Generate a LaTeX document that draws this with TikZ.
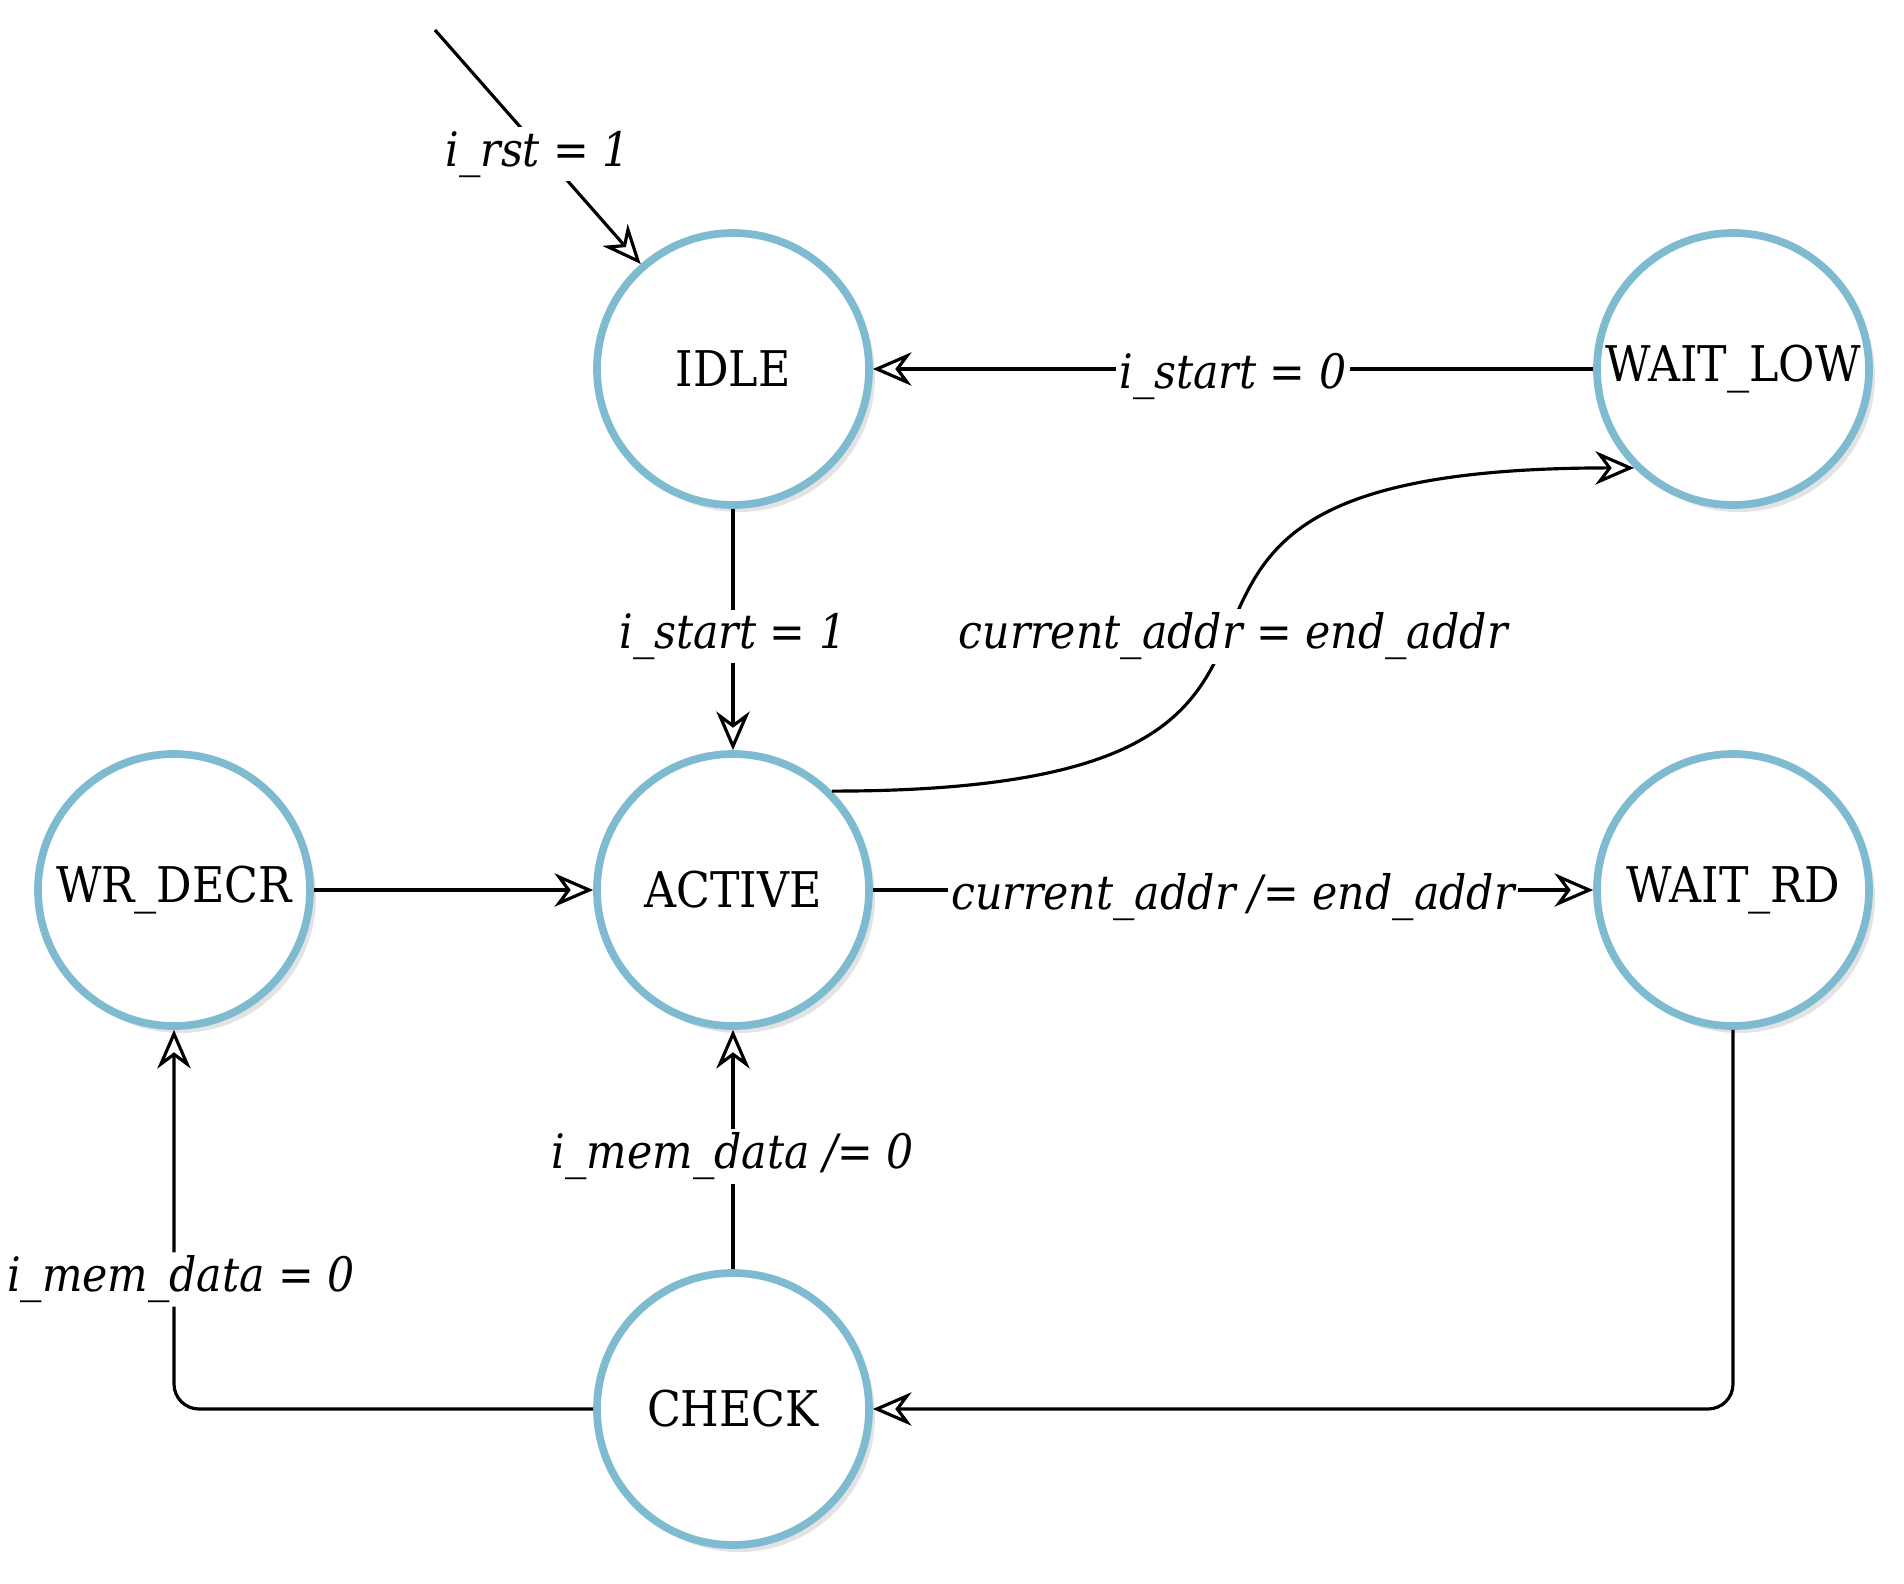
\documentclass[tikz,border=0pt]{standalone}
\usepackage{fontspec}
\setmainfont{DejaVu Serif Condensed}
\usetikzlibrary{arrows.meta,shadows}
\definecolor{stateblue}{RGB}{126,187,208}

\begin{document}
\begin{tikzpicture}[
    state/.style={circle,draw=stateblue,line width=2.2pt,fill=white,
      minimum size=2.72cm,inner sep=0pt,font=\fontsize{14}{16}\selectfont,
      drop shadow={opacity=0.22,shadow xshift=0.06cm,shadow yshift=-0.07cm}},
    trans/.style={-{Stealth[open,length=11pt,width=9.5pt,inset=3.5pt]},line width=0.9pt},
    cond/.style={fill=white,inner sep=1pt,yshift=-2pt,font=\fontsize{13.5}{16}\selectfont\itshape}]
  \useasboundingbox (0,0) rectangle (19.04,-15.84);

  % states
  \node[state] (idle)    at (7.33,-3.69)  {IDLE};
  \node[state] (waitlow) at (17.33,-3.69) {WAIT\_LOW};
  \node[state] (active)  at (7.33,-8.90)  {ACTIVE};
  \node[state] (wrdecr)  at (1.74,-8.90)  {WR\_DECR};
  \node[state] (waitrd)  at (17.33,-8.90) {WAIT\_RD};
  \node[state] (check)   at (7.33,-14.09) {CHECK};
  \coordinate (rst) at (4.35,-0.30);

  % transitions
  \draw[trans] (rst) -- node[cond] {i\_rst = 1} (idle);
  \draw[trans] (waitlow) -- node[cond] {i\_start = 0} (idle);
  \draw[trans] (idle) -- node[cond] {i\_start = 1} (active);
  \draw[trans] (active.45) .. controls +(6.5,0) and +(-6.5,0) ..
    node[cond] {current\_addr = end\_addr} (waitlow.225);
  \draw[trans] (active) -- node[cond] {current\_addr /= end\_addr} (waitrd);
  \draw[trans] (wrdecr) -- (active);
  \draw[trans] (check) -- node[cond] {i\_mem\_data /= 0} (active);
  \draw[trans,rounded corners=0.25cm] (check.west) -| node[cond,pos=0.68,xshift=2pt] {i\_mem\_data = 0} (wrdecr.south);
  \draw[trans,rounded corners=0.25cm] (waitrd.south) |- (check.east);
\end{tikzpicture}
\end{document}
